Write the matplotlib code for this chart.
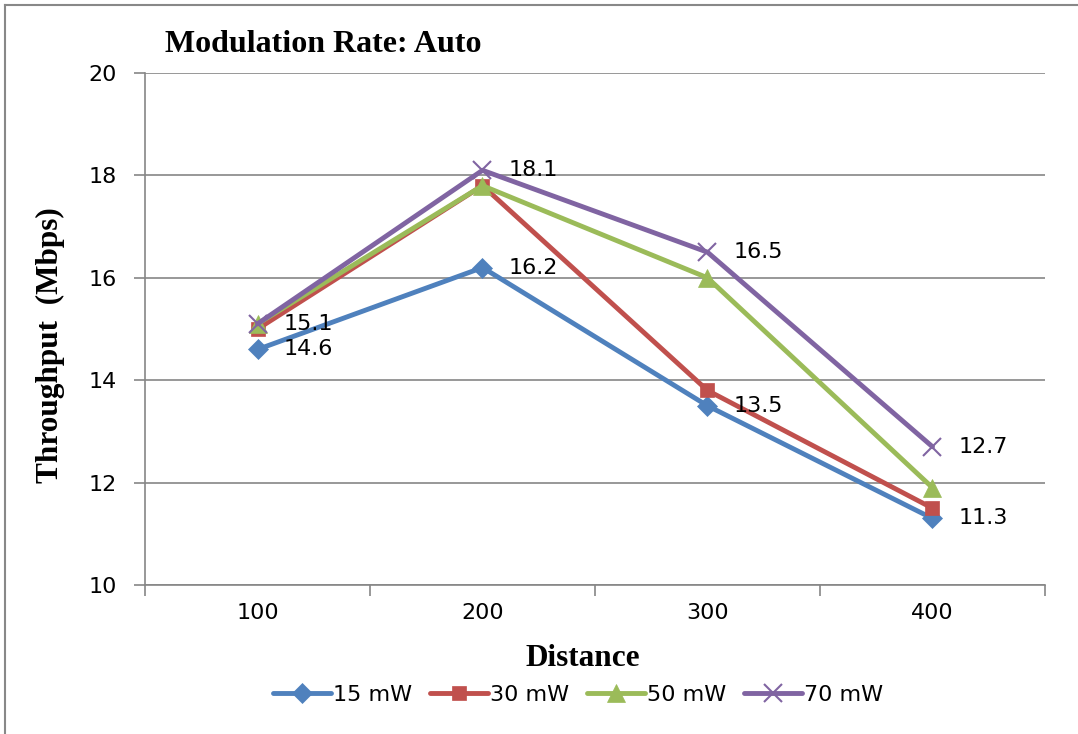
import matplotlib.pyplot as plt
from matplotlib.lines import Line2D

W, H = 1078, 734

distances = ["100", "200", "300", "400"]
series_names = ["15 mW", "30 mW", "50 mW", "70 mW"]
mw15 = [14.6, 16.2, 13.5, 11.3]
mw30 = [15.0, 17.8, 13.8, 11.5]
mw50 = [15.1, 17.8, 16.0, 11.9]
mw70 = [15.1, 18.1, 16.5, 12.7]

colors = ["#4F81BD", "#C0504D", "#9BBB59", "#8064A2"]
markers = ["D", "s", "^", "x"]
msizes = [10.5, 10, 12.5, 13]
grid_col = "#868686"
sans = "DejaVu Sans"
fs = 16


def px(x, y):
    # pixel coords (from top-left) -> figure fraction
    return x / W, 1 - y / H


fig = plt.figure(figsize=(W / 100, H / 100), dpi=100)
x0, y1 = px(145, 585)
x1, y0 = px(1045, 73)
ax = fig.add_axes([x0, y1, x1 - x0, y0 - y1])

xs = list(range(1, len(distances) + 1))
all_series = [mw15, mw30, mw50, mw70]
for vals, name, c, m, ms in zip(all_series, series_names, colors, markers, msizes):
    ax.plot(xs, vals, color=c, lw=3.5, marker=m, markersize=ms,
            markeredgewidth=1.5 if m == "x" else 0.5, markeredgecolor=c,
            label=name, solid_capstyle="round", zorder=3)

# data labels on 15 mW and 70 mW
for vals in (mw15, mw70):
    for x, v in zip(xs, vals):
        ax.annotate(f"{v:.1f}", (x, v), xytext=(19, 0), textcoords="offset points",
                    ha="left", va="center", fontsize=fs, family=sans, zorder=4)

ax.set_xlim(0.5, 4.5)
ax.set_ylim(10, 20)
ax.set_yticks(range(10, 21, 2))
ax.yaxis.grid(True, color=grid_col, lw=1.2)
ax.set_axisbelow(True)

ax.set_xticks([0.5, 1.5, 2.5, 3.5, 4.5])
ax.set_xticklabels([])
ax.set_xticks(xs, minor=True)
ax.set_xticklabels(distances, minor=True)
ax.tick_params(axis="x", which="major", length=8, width=1.2, color=grid_col, direction="out")
ax.tick_params(axis="x", which="minor", length=0, pad=13, labelsize=fs)
ax.tick_params(axis="y", length=8, width=1.2, color=grid_col, direction="out",
               pad=12, labelsize=fs)
for lab in ax.get_xticklabels(minor=True) + ax.get_yticklabels():
    lab.set_family(sans)

for s in ("top", "right"):
    ax.spines[s].set_visible(False)
for s in ("left", "bottom"):
    ax.spines[s].set_color(grid_col)
    ax.spines[s].set_linewidth(1.2)

serif = dict(family="Liberation Serif", weight="bold")
fig.text(*px(165, 44), "Modulation Rate: Auto", ha="left", va="center", fontsize=23, **serif)
fig.text(*px(583, 658), "Distance", ha="center", va="center", fontsize=22.5, **serif)
fig.text(*px(50, 345), "Throughput  (Mbps)", ha="center", va="center", rotation=90,
         fontsize=22.5, **serif)

fig.legend(loc="center", bbox_to_anchor=px(578, 695), ncol=4, frameon=False,
           prop={"family": sans, "size": fs}, handlelength=2.6,
           columnspacing=0.8, handletextpad=0.1)

# outer chart border (top and left visible)
fig.add_artist(Line2D([5 / W, 1], [1 - 5 / H, 1 - 5 / H], color="#888888", lw=1.5,
                      transform=fig.transFigure))
fig.add_artist(Line2D([5 / W, 5 / W], [0, 1 - 5 / H], color="#888888", lw=1.5,
                      transform=fig.transFigure))

fig.savefig("out.png", dpi=100)
